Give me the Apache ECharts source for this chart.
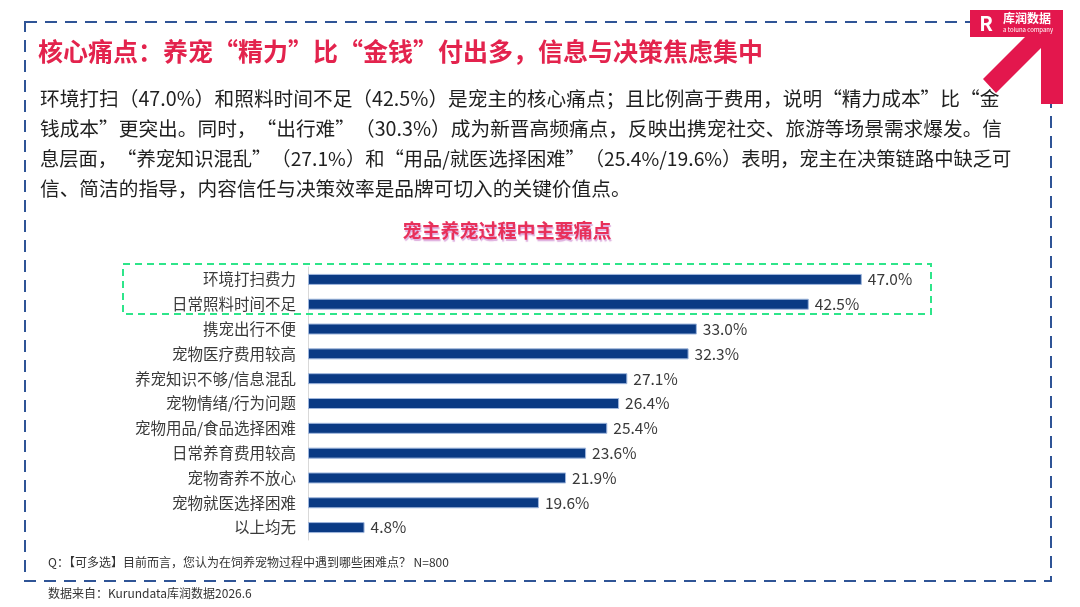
<!DOCTYPE html>
<html>
<head>
<meta charset="utf-8">
<script src="https://cdn.jsdelivr.net/npm/echarts@6/dist/echarts.min.js"></script>
<style>
  html, body { margin: 0; padding: 0; background: #fff; }
  #main { width: 1080px; height: 607px; }
</style>
</head>
<body>
<div id="main"></div>
<script>
// 数据
var categories = ['环境打扫费力', '日常照料时间不足', '携宠出行不便', '宠物医疗费用较高', '养宠知识不够/信息混乱',
  '宠物情绪/行为问题', '宠物用品/食品选择困难', '日常养育费用较高', '宠物寄养不放心', '宠物就医选择困难', '以上均无'];
var values = [47.0, 42.5, 33.0, 32.3, 27.1, 26.4, 25.4, 23.6, 21.9, 19.6, 4.8];

var pageTitle = '核心痛点：养宠“精力”比“金钱”付出多，信息与决策焦虑集中';
var paragraph = [
  '环境打扫（47.0%）和照料时间不足（42.5%）是宠主的核心痛点；且比例高于费用，说明“精力成本”比“金',
  '钱成本”更突出。同时，“出行难”（30.3%）成为新晋高频痛点，反映出携宠社交、旅游等场景需求爆发。信',
  '息层面，“养宠知识混乱”（27.1%）和“用品/就医选择困难”（25.4%/19.6%）表明，宠主在决策链路中缺乏可',
  '信、简洁的指导，内容信任与决策效率是品牌可切入的关键价值点。'
];
var paragraphSize = [19.7, 19.7, 19.3, 19.7];
var chartTitle = '宠主养宠过程中主要痛点';
var question = 'Q：【可多选】目前而言，您认为在饲养宠物过程中遇到哪些困难点？ N=800';
var source = '数据来自：Kurundata库润数据2026.6';

var FONT = '"Noto Sans CJK SC", "Noto Sans", sans-serif';
var RED = '#e3234d';

var myChart = echarts.init(document.getElementById('main'));

var graphics = [];
// 蓝色虚线边框
graphics.push({
  type: 'rect', shape: { x: 25, y: 22, width: 1026, height: 559 },
  style: { fill: 'none', stroke: '#2f5496', lineWidth: 2, lineDash: [12, 8] }, z: 1
});
// 标题
graphics.push({
  type: 'text', left: 38, top: 39,
  style: { text: pageTitle, fill: RED, font: 'bold 25px ' + FONT }
});
// 段落
paragraph.forEach(function (line, i) {
  graphics.push({
    type: 'text', left: 40, top: 89 + i * 30,
    style: { text: line, fill: '#1f1f1f', font: paragraphSize[i] + 'px ' + FONT }
  });
});
// 图表标题
graphics.push({
  type: 'text', x: 507, y: 231,
  style: {
    text: chartTitle, fill: '#e8305a', font: 'bold 19px ' + FONT,
    align: 'center', verticalAlign: 'middle',
    textShadowColor: 'rgba(200,120,200,0.6)', textShadowOffsetX: 1, textShadowOffsetY: 2, textShadowBlur: 1
  }
});
// 绿色虚线框
graphics.push({
  type: 'rect', shape: { x: 123, y: 264, width: 808, height: 50 },
  style: { fill: 'none', stroke: '#2ee58a', lineWidth: 2, lineDash: [7, 5] }, z: 5
});
// 问题 & 来源
graphics.push({
  type: 'text', left: 48, top: 556,
  style: { text: question, fill: '#333', font: '12px ' + FONT }
});
graphics.push({
  type: 'text', left: 48, top: 587,
  style: { text: source, fill: '#333', font: '12px ' + FONT }
});
// 右上角logo箭头
graphics.push({
  type: 'polygon',
  shape: { points: [[970, 10], [1063, 10], [1063, 104], [1041, 104], [1041, 48], [996, 93], [983, 79], [1025, 37], [970, 37]] },
  style: { fill: '#e3174d' }, z: 10
});
graphics.push({
  type: 'text', x: 986, y: 23, z: 11,
  style: { text: 'R', fill: '#fff', font: 'bold 20px ' + FONT, align: 'center', verticalAlign: 'middle' }
});
graphics.push({
  type: 'text', x: 1003, y: 18, z: 11,
  style: { text: '库润数据', fill: '#fff', font: 'bold 12px ' + FONT, verticalAlign: 'middle' }
});
graphics.push({
  type: 'text', x: 1003, y: 30, z: 11,
  style: { text: 'a toluna company', fill: '#fff', font: '6px ' + FONT, verticalAlign: 'middle' }
});

var option = {
  backgroundColor: '#fff',
  animation: false,
  graphic: graphics,
  grid: { left: 308, top: 267, width: 707, height: 273, containLabel: false },
  xAxis: {
    type: 'value', min: 0, max: 60,
    show: false
  },
  yAxis: {
    type: 'category', data: categories, inverse: true,
    axisLine: { show: true, lineStyle: { color: '#d9d9d9', width: 1 } },
    axisTick: { show: false },
    axisLabel: { color: '#3a3a3a', fontSize: 15.5, fontFamily: FONT, margin: 12 }
  },
  series: [{
    type: 'bar',
    data: values,
    barWidth: 11,
    itemStyle: { color: '#0a3a84', borderColor: '#9fb6dc', borderWidth: 1 },
    label: {
      show: true, position: 'right', distance: 6,
      color: '#3a3a3a', fontSize: 15.5, fontFamily: FONT,
      formatter: function (p) { return p.value.toFixed(1) + '%'; }
    }
  }]
};
if (option && typeof option === "object") {
  myChart.setOption(option, true);
}
</script>
</body>
</html>
